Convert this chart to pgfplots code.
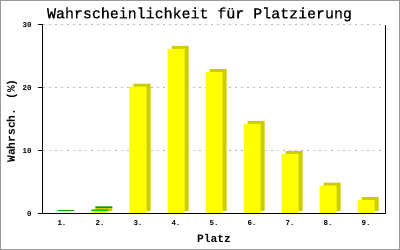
\documentclass[border=0pt]{standalone}
\usepackage{fontspec}
\setmainfont{Liberation Mono}
\newfontfamily\titlefont{Liberation Mono}[FakeBold=0.5]
\usepackage{pgfplots}
\usepackage{pgfplotstable}
\pgfplotsset{compat=1.18}
\usetikzlibrary{calc}
\definecolor{barY}{HTML}{FFFF00}
\definecolor{barYd}{HTML}{CCCC00}
\definecolor{barG}{HTML}{00CC00}
\definecolor{barGd}{HTML}{00A000}
\definecolor{framec}{HTML}{999999}
\definecolor{gridc}{HTML}{BBBBBB}

\pgfplotstableread{
x y g
1 0 0.15
2 0.45 0.3
3 20.2 0
4 26.2 0
5 22.5 0
6 14.3 0
7 9.5 0
8 4.5 0
9 2.2 0
}\data

\pgfplotsset{base/.style={
  scale only axis, width=342bp, height=189bp,
  xmin=0.5, xmax=9.5, ymin=0, ymax=30, enlargelimits=false,
  ybar stacked, bar width=17bp,
  xtick={1,2,3,4,5,6,7,8,9}, ytick={0,10,20,30},
}}

\begin{document}
\begin{tikzpicture}
\begin{axis}[base,
  axis line style={draw=none}, major tick style={draw=none},
  ymajorgrids, grid style={gridc, dash pattern=on 2bp off 4bp, line width=1bp},
  xticklabels={1.,2.,3.,4.,5.,6.,7.,8.,9.},
  yticklabel={\pgfmathprintnumber[assume math mode=true]{\tick}\hspace*{11.3bp}},
  ticklabel style={font=\bfseries\fontsize{7.5}{9}\selectfont},
  yticklabel style={anchor=east, inner sep=0pt},
  xticklabel style={anchor=base, inner sep=0pt, yshift=-11.7bp},
  title={Wahrscheinlichkeit für Platzierung},
  title style={font=\titlefont\fontsize{15}{18}\selectfont, at={(axis description cs:0.5,1)}, anchor=base, yshift=0.72bp, xshift=-14.5bp, inner sep=0pt},
  xlabel={Platz},
  xlabel style={font=\bfseries\fontsize{11.3}{13}\selectfont, at={(axis description cs:0.5,0)}, anchor=base, yshift=-28.3bp, inner sep=0pt},
  ylabel={Wahrsch. (\%)},
  ylabel style={font=\bfseries\fontsize{11.3}{13}\selectfont, at={(axis description cs:-0.0819,0.492)}, anchor=base, inner sep=0pt},
]
\addplot[fill=barYd, draw=none, xshift=4bp, yshift=3bp] table[x=x,y=y]{\data};
\addplot[fill=barGd, draw=none, xshift=4bp, yshift=3bp] table[x=x,y=g]{\data};
\end{axis}
\begin{axis}[base, axis on top,
  axis x line*=bottom, axis y line*=box,
  axis line style={black, line width=1bp},
  xmajorticks=false, ytick pos=left,
  tick align=outside, major tick length=5bp,
  ytick style={black, line width=1bp},
  yticklabel=\empty,
]
\addplot[fill=barY, draw=none] table[x=x,y=y]{\data};
\addplot[fill=barG, draw=none] table[x=x,y=g]{\data};
\end{axis}
\pgfresetboundingbox
\path[use as bounding box] ($(current axis.south west)+(-43bp,-36bp)$) rectangle ($(current axis.north east)+(15bp,25bp)$);
\draw[framec, line width=1.5bp] ($(current axis.south west)+(-42.25bp,-35.25bp)$) rectangle ($(current axis.north east)+(14.25bp,24.25bp)$);
\end{tikzpicture}
\end{document}
